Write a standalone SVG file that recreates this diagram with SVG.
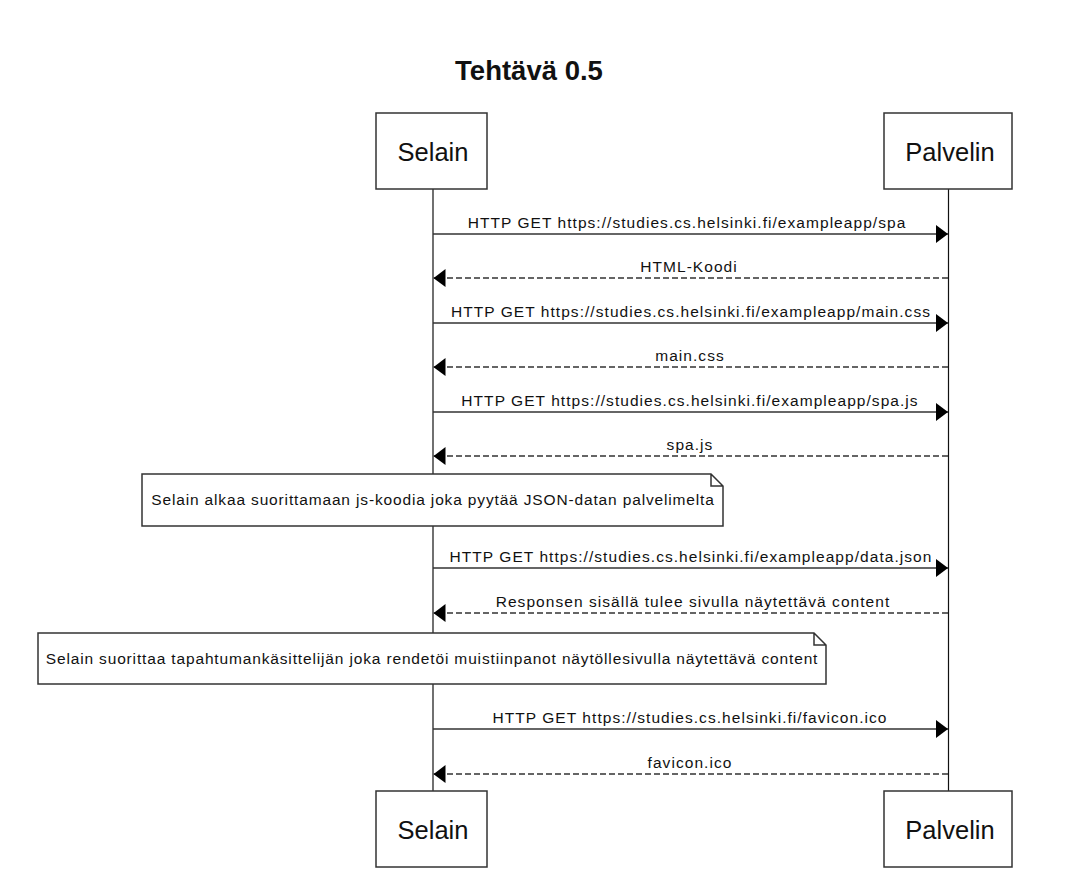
<svg xmlns="http://www.w3.org/2000/svg" width="1085" height="879" viewBox="0 0 1085 879">
<defs>
<style>
text{font-family:"Liberation Sans",Arial,sans-serif;fill:#111;}
.title{font-size:27.5px;font-weight:bold;text-anchor:middle;}
.actor rect{fill:#fff;stroke:#333;stroke-width:1.5;}
.actor text{font-size:25.5px;text-anchor:middle;}
.life{stroke:#111;stroke-width:1.2;}
.msg{stroke:#333;stroke-width:1.3;fill:none;}
.dash{stroke-dasharray:6 3;}
.lbl{font-size:15.5px;letter-spacing:1.05px;text-anchor:middle;}
.note path{fill:#fff;stroke:#333;stroke-width:1.5;}
.note text{font-size:15.5px;letter-spacing:0.85px;text-anchor:middle;}
</style>
<marker id="ah" viewBox="0 0 12 18" refX="12" refY="9" markerWidth="12" markerHeight="18" markerUnits="userSpaceOnUse" orient="auto"><path d="M0,0 L12,9 L0,18 Z" fill="#000"/></marker>
</defs>
<rect width="1085" height="879" fill="#fff"/>
<text class="title" x="529" y="80">Tehtävä 0.5</text>
<g id="lifelines">
<line class="life" x1="433" y1="189" x2="433" y2="791"/>
<line class="life" x1="948.5" y1="189" x2="948.5" y2="791"/>
</g>
<g id="selain-top" class="actor"><rect x="376" y="113" width="111" height="76"/><text x="433" y="161">Selain</text></g>
<g id="palvelin-top" class="actor"><rect x="884" y="113" width="128" height="76"/><text x="950" y="161">Palvelin</text></g>
<g id="selain-bottom" class="actor"><rect x="376" y="791" width="111" height="76"/><text x="433" y="839">Selain</text></g>
<g id="palvelin-bottom" class="actor"><rect x="884" y="791" width="128" height="76"/><text x="950" y="839">Palvelin</text></g>
<g id="connectors">
<line class="msg" x1="433" y1="234" x2="948" y2="234" marker-end="url(#ah)"/>
<text class="lbl" x="687" y="228">HTTP GET https://studies.cs.helsinki.fi/exampleapp/spa</text>
<line class="msg dash" x1="948" y1="278" x2="433.5" y2="278" marker-end="url(#ah)"/>
<text class="lbl" x="689" y="272">HTML-Koodi</text>
<line class="msg" x1="433" y1="323" x2="948" y2="323" marker-end="url(#ah)"/>
<text class="lbl" x="691" y="317">HTTP GET https://studies.cs.helsinki.fi/exampleapp/main.css</text>
<line class="msg dash" x1="948" y1="367" x2="433.5" y2="367" marker-end="url(#ah)"/>
<text class="lbl" x="690" y="361">main.css</text>
<line class="msg" x1="433" y1="412" x2="948" y2="412" marker-end="url(#ah)"/>
<text class="lbl" x="690" y="406">HTTP GET https://studies.cs.helsinki.fi/exampleapp/spa.js</text>
<line class="msg dash" x1="948" y1="456" x2="433.5" y2="456" marker-end="url(#ah)"/>
<text class="lbl" x="690" y="450">spa.js</text>
<line class="msg" x1="433" y1="568" x2="948" y2="568" marker-end="url(#ah)"/>
<text class="lbl" x="691" y="562">HTTP GET https://studies.cs.helsinki.fi/exampleapp/data.json</text>
<line class="msg dash" x1="948" y1="613" x2="433.5" y2="613" marker-end="url(#ah)"/>
<text class="lbl" x="693" y="607">Responsen sisällä tulee sivulla näytettävä content</text>
<line class="msg" x1="433" y1="729" x2="948" y2="729" marker-end="url(#ah)"/>
<text class="lbl" x="690" y="723">HTTP GET https://studies.cs.helsinki.fi/favicon.ico</text>
<line class="msg dash" x1="948" y1="774" x2="433.5" y2="774" marker-end="url(#ah)"/>
<text class="lbl" x="690" y="768">favicon.ico</text>
</g>
<g id="note1" class="note"><path d="M142,474 H711 L723,486 V526 H142 Z M711,474 V486 H723"/><text x="433" y="505">Selain alkaa suorittamaan js-koodia joka pyytää JSON-datan palvelimelta</text></g>
<g id="note2" class="note"><path d="M38,633 H814 L826,645 V684 H38 Z M814,633 V645 H826"/><text x="432" y="664">Selain suorittaa tapahtumankäsittelijän joka rendetöi muistiinpanot näytöllesivulla näytettävä content</text></g>
</svg>
